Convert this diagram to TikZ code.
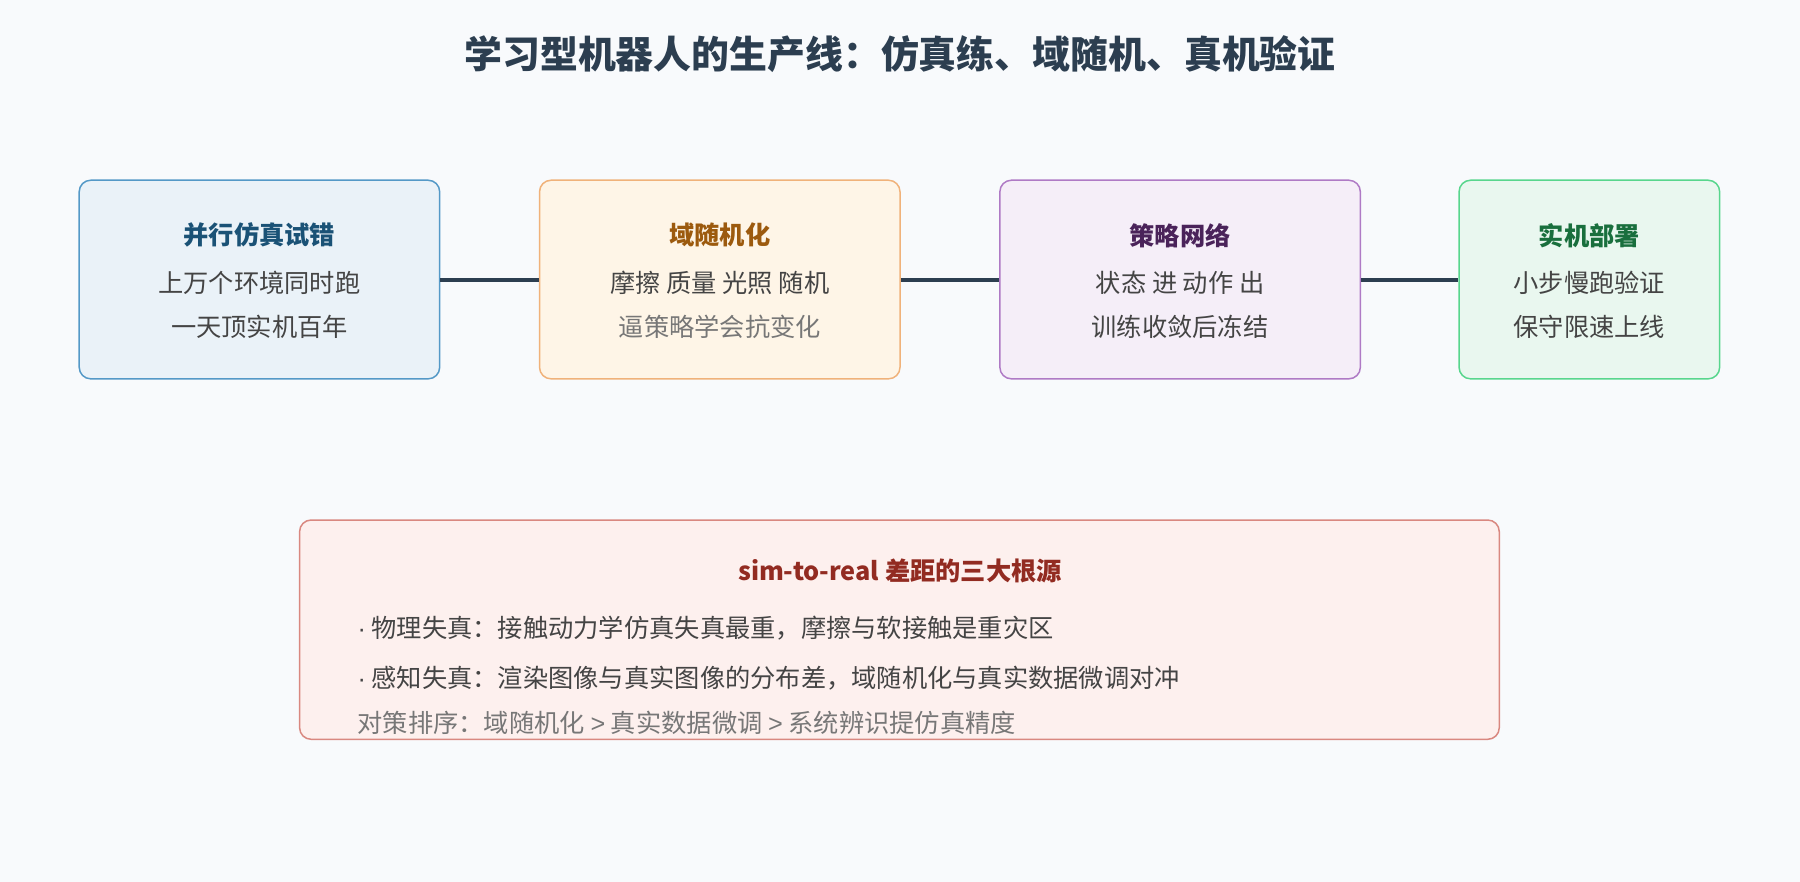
\documentclass[tikz,border=0pt]{standalone}
\usepackage{fontspec}
\setmainfont{Noto Sans CJK SC}
\newfontfamily\latinf{Liberation Sans}
\definecolor{bg}{HTML}{F8FAFC}
\definecolor{dark}{HTML}{2C3E50}
\definecolor{bodyc}{HTML}{444444}
\definecolor{greyc}{HTML}{777777}
\definecolor{s1}{HTML}{5499C7}\definecolor{f1}{HTML}{EAF2F8}\definecolor{c1}{HTML}{1A5276}
\definecolor{s2}{HTML}{F0B27A}\definecolor{f2}{HTML}{FEF5E7}\definecolor{c2}{HTML}{9C5A0E}
\definecolor{s3}{HTML}{AF7AC5}\definecolor{f3}{HTML}{F5EEF8}\definecolor{c3}{HTML}{4A235A}
\definecolor{s4}{HTML}{58D68D}\definecolor{f4}{HTML}{E9F7EF}\definecolor{c4}{HTML}{196F3D}
\definecolor{s5}{HTML}{D98880}\definecolor{f5}{HTML}{FDF0EE}\definecolor{c5}{HTML}{922B21}
\begin{document}
\begin{tikzpicture}[x=1pt,y=-1pt,
  box/.style={draw, line width=1.3pt, rounded corners=10pt},
  ln/.style={draw=dark, line width=3.5pt},
  ttl/.style={font=\fontsize{22}{26}\selectfont\bfseries},
  bd/.style={font=\fontsize{22}{26}\selectfont, text=bodyc},
  gr/.style={font=\fontsize{22}{26}\selectfont, text=greyc}]
\fill[bg] (0,0) rectangle (1568,768);
\useasboundingbox (0,0) rectangle (1568,768);
\node[font=\fontsize{33}{40}\selectfont\bfseries, text=dark] (title) at (784,47) {学习型机器人的生产线：仿真练、域随机、真机验证};
\node[box, draw=s1, fill=f1, minimum width=314pt, minimum height=173pt] (b1) at (226,243.5) {};
\node[box, draw=s2, fill=f2, minimum width=314pt, minimum height=173pt] (b2) at (627,243.5) {};
\node[box, draw=s3, fill=f3, minimum width=314pt, minimum height=173pt] (b3) at (1028,243.5) {};
\node[box, draw=s4, fill=f4, minimum width=227pt, minimum height=173pt] (b4) at (1384.5,243.5) {};
\draw[ln] (b1.east) -- (b2.west);
\draw[ln] (b2.east) -- (b3.west);
\draw[ln] (b3.east) -- (b4.west);
\node[ttl, text=c1] (t1) at (226,205) {并行仿真试错};
\node[bd] (t1a) at (226,246) {上万个环境同时跑};
\node[bd] (t1b) at (226,285) {一天顶实机百年};
\node[ttl, text=c2] (t2) at (627,205) {域随机化};
\node[bd] (t2a) at (627,246) {摩擦 质量 光照 随机};
\node[gr] (t2b) at (627,285) {逼策略学会抗变化};
\node[ttl, text=c3] (t3) at (1028,205) {策略网络};
\node[bd] (t3a) at (1028,246) {状态 进 动作 出};
\node[bd] (t3b) at (1028,285) {训练收敛后冻结};
\node[ttl, text=c4] (t4) at (1384.5,205) {实机部署};
\node[bd] (t4a) at (1384.5,246) {小步慢跑验证};
\node[bd] (t4b) at (1384.5,285) {保守限速上线};
\node[box, draw=s5, fill=f5, minimum width=1045pt, minimum height=191pt] (b5) at (783.5,548.5) {};
\node[ttl, text=c5] (t5) at (784,497) {sim-to-real 差距的三大根源};
\node[bd, anchor=west] (t5a) at (308,547) {{\latinf·} 物理失真：接触动力学仿真失真最重，摩擦与软接触是重灾区};
\node[bd, anchor=west] (t5b) at (308,591) {{\latinf·} 感知失真：渲染图像与真实图像的分布差，域随机化与真实数据微调对冲};
\node[gr, anchor=west] (t5c) at (308,630) {对策排序：域随机化 {\latinf>} 真实数据微调 {\latinf>} 系统辨识提仿真精度};
\end{tikzpicture}
\end{document}
